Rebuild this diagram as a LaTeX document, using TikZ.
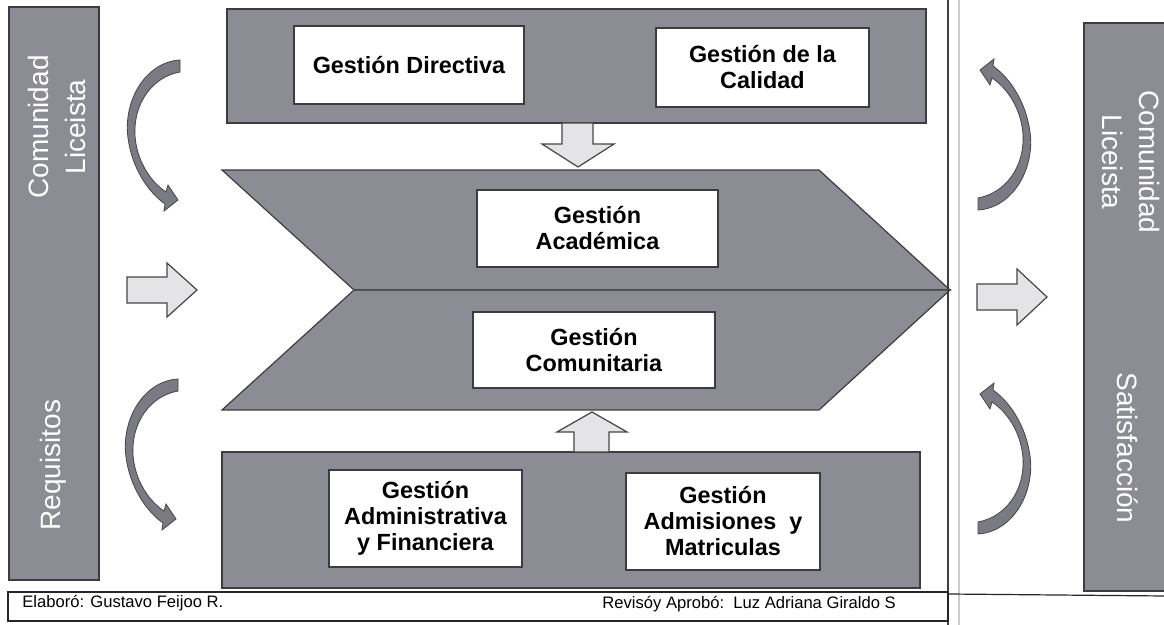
\documentclass[tikz,border=0pt]{standalone}
\usepackage{fontspec}
\setmainfont{Liberation Sans}
\definecolor{bandgray}{RGB}{140,140,149}
\definecolor{bandline}{RGB}{60,60,66}
\definecolor{curvefill}{RGB}{122,122,130}
\definecolor{lightfill}{RGB}{228,228,230}
\definecolor{arrline}{RGB}{70,70,72}
\begin{document}
\begin{tikzpicture}[x=0.5pt,y=-0.5pt,
  band/.style={fill=bandgray,draw=bandline,line width=0.6pt,inner sep=0pt},
  wbox/.style={fill=white,draw=bandline,line width=0.6pt,inner sep=0pt,align=center,
    font=\bfseries\fontsize{11.7}{13}\selectfont},
  sidetext/.style={text=white,align=center,font=\fontsize{14}{18.5}\selectfont,inner sep=0pt},
  blockarrow/.style={fill=lightfill,draw=arrline,line width=0.6pt},
  curvearrow/.style={fill=curvefill,draw=arrline,line width=0.4pt},
  foot/.style={font=\fontsize{8.3}{10}\selectfont,inner sep=0pt}]
\useasboundingbox (0,0) rectangle (1164,625);
\clip (0,0) rectangle (1164,625);
\fill[white] (0,0) rectangle (1164,625);

% side bars
\node[band,minimum width=45pt,minimum height=286.5pt] (leftbar) at (54,293.5) {};
\node[band,minimum width=45.5pt,minimum height=284pt] (rightbar) at (1129.5,307) {};
\node[sidetext,rotate=90] (comL) at (57,127) {Comunidad\\Liceista};
\node[sidetext,rotate=90] (req) at (53,465) {Requisitos};
\node[sidetext,rotate=-90] (comR) at (1131,162) {Comunidad\\Liceista};
\node[sidetext,rotate=-90] (sat) at (1128,448) {Satisfacción};

% chevron (two halves)
\draw[band] (222,170) -- (819,170) -- (950,290) -- (354,290) -- cycle;
\draw[band] (354,290) -- (950,290) -- (819,410) -- (222,410) -- cycle;

% bands
\node[band,minimum width=349.5pt,minimum height=57pt] (topband) at (576.5,66) {};
\node[band,minimum width=349pt,minimum height=68pt] (botband) at (571,520) {};

% white boxes
\node[wbox,minimum width=115pt,minimum height=39pt] (dir) at (409,65) {Gestión Directiva};
\node[wbox,minimum width=106.5pt,minimum height=39.5pt] (cal) at (762.5,67.5) {Gestión de la\\Calidad};
\node[wbox,minimum width=120.5pt,minimum height=38.5pt] (aca) at (597.5,228.5) {Gestión\\Académica};
\node[wbox,minimum width=121pt,minimum height=38pt] (com) at (594,350) {Gestión\\Comunitaria};
\node[wbox,minimum width=96.5pt,minimum height=48.5pt] (adm) at (425.5,518.5) {Gestión\\Administrativa\\y Financiera};
\node[wbox,minimum width=97pt,minimum height=48.5pt] (mat) at (723,521.5) {Gestión\\Admisiones\ \ y\\Matriculas};

% block arrows
\draw[blockarrow] (562,123) -- (593,123) -- (593,144) -- (614,144) -- (578,167) -- (542,144) -- (562,144) -- cycle;
\draw[blockarrow] (574,452) -- (609,452) -- (609,432) -- (627,432) -- (592,412) -- (557,432) -- (574,432) -- cycle;
\draw[blockarrow] (127,277) -- (167,277) -- (167,263) -- (197,290) -- (167,317) -- (167,303) -- (127,303) -- cycle;
\draw[blockarrow] (977,284) -- (1017,284) -- (1017,269) -- (1047,297) -- (1017,325) -- (1017,310) -- (977,310) -- cycle;

% curved arrows
\def\curvedarrow{(25,-75) .. controls (-9,-73) and (-32,-35) .. (-27,3) .. controls (-23,33) and (-7,57) .. (10,69) -- (9,76) -- (23,65) -- (13,50) -- (11,57) .. controls (-4,47) and (-18,27) .. (-20,1) .. controls (-22,-31) and (-3,-58) .. (25,-63) -- cycle}
\begin{scope}[shift={(155,135)}]
  \draw[curvearrow] \curvedarrow;
\end{scope}
\begin{scope}[shift={(153,454)}]
  \draw[curvearrow] \curvedarrow;
\end{scope}
\begin{scope}[shift={(1003,135)},rotate=180]
  \draw[curvearrow] \curvedarrow;
\end{scope}
\begin{scope}[shift={(1003,459)},rotate=180]
  \draw[curvearrow] \curvedarrow;
\end{scope}

% separator
\draw[black!75,line width=0.8pt] (948,0) -- (948,625);
\draw[black!20,line width=0.6pt] (959,0) -- (959,625);

% footer
\draw[black!85,line width=0.6pt] (8,592) rectangle (948,621);
\draw[black!85,line width=0.6pt] (948,594) -- (1164,596);
\node[foot,anchor=base west] (elab) at (22,608) {Elaboró: Gustavo Feijoo R.};
\node[foot,anchor=base west] (rev) at (602,609) {Revisóy Aprobó:\ \ Luz Adriana Giraldo S};
\end{tikzpicture}
\end{document}
